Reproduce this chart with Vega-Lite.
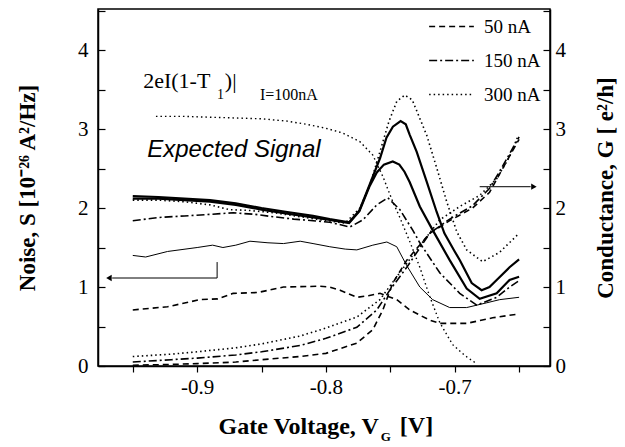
{
  "$schema": "https://vega.github.io/schema/vega-lite/v6.json",
  "width": 452,
  "height": 357,
  "autosize": {"type": "none"},
  "padding": {"left": 98, "top": 9, "right": 75, "bottom": 81},
  "background": "white",
  "data": {"values": [{}]},
  "config": {
    "view": {"stroke": "black", "strokeWidth": 1.5},
    "axis": {"grid": false, "domainColor": "black", "domainWidth": 1.5, "tickColor": "black", "tickWidth": 1.2, "labelColor": "black", "titleColor": "black", "labelFont": "Liberation Serif", "titleFont": "Liberation Serif", "labelFontSize": 21, "titleFontSize": 23, "titleFontWeight": "bold"}
  },
  "datasets": {
    "solid": [
      {"s":"A","v":-0.95,"y":2.15},{"s":"A","v":-0.93,"y":2.14},{"s":"A","v":-0.91,"y":2.12},{"s":"A","v":-0.89,"y":2.1},{"s":"A","v":-0.87,"y":2.06},{"s":"A","v":-0.85,"y":2.0},{"s":"A","v":-0.83,"y":1.95},{"s":"A","v":-0.81,"y":1.9},{"s":"A","v":-0.797,"y":1.86},{"s":"A","v":-0.782,"y":1.82},{"s":"A","v":-0.774,"y":1.97},{"s":"A","v":-0.766,"y":2.3},{"s":"A","v":-0.758,"y":2.63},{"s":"A","v":-0.753,"y":2.89},{"s":"A","v":-0.748,"y":3.03},{"s":"A","v":-0.742,"y":3.1},{"s":"A","v":-0.738,"y":3.06},{"s":"A","v":-0.735,"y":2.93},{"s":"A","v":-0.7295,"y":2.71},{"s":"A","v":-0.7217,"y":2.33},{"s":"A","v":-0.714,"y":1.95},{"s":"A","v":-0.708,"y":1.68},{"s":"A","v":-0.7,"y":1.45},{"s":"A","v":-0.696,"y":1.34},{"s":"A","v":-0.6868,"y":1.05},{"s":"A","v":-0.6791,"y":0.96},{"s":"A","v":-0.673,"y":1.0},{"s":"A","v":-0.6674,"y":1.09},{"s":"A","v":-0.6574,"y":1.25},{"s":"A","v":-0.65,"y":1.35},
      {"s":"B","v":-0.95,"y":2.12},{"s":"B","v":-0.93,"y":2.12},{"s":"B","v":-0.91,"y":2.1},{"s":"B","v":-0.89,"y":2.08},{"s":"B","v":-0.87,"y":2.04},{"s":"B","v":-0.85,"y":1.98},{"s":"B","v":-0.83,"y":1.93},{"s":"B","v":-0.81,"y":1.88},{"s":"B","v":-0.797,"y":1.85},{"s":"B","v":-0.782,"y":1.81},{"s":"B","v":-0.774,"y":1.96},{"s":"B","v":-0.766,"y":2.28},{"s":"B","v":-0.7605,"y":2.45},{"s":"B","v":-0.755,"y":2.55},{"s":"B","v":-0.7481,"y":2.59},{"s":"B","v":-0.743,"y":2.55},{"s":"B","v":-0.739,"y":2.46},{"s":"B","v":-0.735,"y":2.33},{"s":"B","v":-0.7271,"y":2.02},{"s":"B","v":-0.7171,"y":1.72},{"s":"B","v":-0.7039,"y":1.34},{"s":"B","v":-0.6907,"y":0.98},{"s":"B","v":-0.6806,"y":0.85},{"s":"B","v":-0.6674,"y":0.92},{"s":"B","v":-0.6574,"y":1.09},{"s":"B","v":-0.65,"y":1.13}
    ],
    "thin": [
      {"v":-0.95,"y":1.4},{"v":-0.94,"y":1.38},{"v":-0.923,"y":1.45},{"v":-0.9,"y":1.5},{"v":-0.888,"y":1.53},{"v":-0.88,"y":1.5},{"v":-0.87,"y":1.53},{"v":-0.859,"y":1.58},{"v":-0.845,"y":1.56},{"v":-0.833,"y":1.55},{"v":-0.82,"y":1.58},{"v":-0.81,"y":1.55},{"v":-0.797,"y":1.51},{"v":-0.785,"y":1.48},{"v":-0.776,"y":1.47},{"v":-0.7636,"y":1.53},{"v":-0.7527,"y":1.57},{"v":-0.745,"y":1.51},{"v":-0.7372,"y":1.27},{"v":-0.7271,"y":1.0},{"v":-0.7171,"y":0.84},{"v":-0.7039,"y":0.74},{"v":-0.6907,"y":0.74},{"v":-0.6752,"y":0.8},{"v":-0.6651,"y":0.84},{"v":-0.65,"y":0.87}
    ],
    "expected": [
      {"v":-0.932,"y":3.16},{"v":-0.91,"y":3.16},{"v":-0.89,"y":3.15},{"v":-0.87,"y":3.14},{"v":-0.85,"y":3.13},{"v":-0.83,"y":3.1},{"v":-0.815,"y":3.06},{"v":-0.8,"y":3.01},{"v":-0.787,"y":2.95},{"v":-0.7736,"y":2.84},{"v":-0.7636,"y":2.67},{"v":-0.7558,"y":2.4},{"v":-0.7481,"y":2.08},{"v":-0.7426,"y":1.88},{"v":-0.735,"y":1.58},{"v":-0.7271,"y":1.25},{"v":-0.7194,"y":0.88},{"v":-0.7116,"y":0.55},{"v":-0.7016,"y":0.27},{"v":-0.692,"y":0.13},{"v":-0.683,"y":0.03}
    ],
    "current": [
      {"s":"N300","c":"300 nA","v":-0.95,"y":2.1},{"s":"N300","c":"300 nA","v":-0.93,"y":2.1},{"s":"N300","c":"300 nA","v":-0.91,"y":2.08},{"s":"N300","c":"300 nA","v":-0.89,"y":2.04},{"s":"N300","c":"300 nA","v":-0.875,"y":1.98},{"s":"N300","c":"300 nA","v":-0.86,"y":1.97},{"s":"N300","c":"300 nA","v":-0.84,"y":1.94},{"s":"N300","c":"300 nA","v":-0.82,"y":1.89},{"s":"N300","c":"300 nA","v":-0.8,"y":1.84},{"s":"N300","c":"300 nA","v":-0.785,"y":1.81},{"s":"N300","c":"300 nA","v":-0.7736,"y":2.0},{"s":"N300","c":"300 nA","v":-0.7659,"y":2.29},{"s":"N300","c":"300 nA","v":-0.7581,"y":2.71},{"s":"N300","c":"300 nA","v":-0.751,"y":3.1},{"s":"N300","c":"300 nA","v":-0.745,"y":3.35},{"s":"N300","c":"300 nA","v":-0.7388,"y":3.43},{"s":"N300","c":"300 nA","v":-0.733,"y":3.37},{"s":"N300","c":"300 nA","v":-0.7217,"y":2.92},{"s":"N300","c":"300 nA","v":-0.714,"y":2.51},{"s":"N300","c":"300 nA","v":-0.7062,"y":2.08},{"s":"N300","c":"300 nA","v":-0.6984,"y":1.7},{"s":"N300","c":"300 nA","v":-0.6907,"y":1.47},{"s":"N300","c":"300 nA","v":-0.6783,"y":1.32},{"s":"N300","c":"300 nA","v":-0.6651,"y":1.44},{"s":"N300","c":"300 nA","v":-0.65,"y":1.68},
      {"s":"N150","c":"150 nA","v":-0.95,"y":1.84},{"s":"N150","c":"150 nA","v":-0.93,"y":1.88},{"s":"N150","c":"150 nA","v":-0.91,"y":1.9},{"s":"N150","c":"150 nA","v":-0.89,"y":1.92},{"s":"N150","c":"150 nA","v":-0.872,"y":1.94},{"s":"N150","c":"150 nA","v":-0.855,"y":1.92},{"s":"N150","c":"150 nA","v":-0.841,"y":1.89},{"s":"N150","c":"150 nA","v":-0.825,"y":1.86},{"s":"N150","c":"150 nA","v":-0.81,"y":1.84},{"s":"N150","c":"150 nA","v":-0.797,"y":1.82},{"s":"N150","c":"150 nA","v":-0.7814,"y":1.76},{"s":"N150","c":"150 nA","v":-0.7713,"y":1.85},{"s":"N150","c":"150 nA","v":-0.7605,"y":2.04},{"s":"N150","c":"150 nA","v":-0.7519,"y":2.13},{"s":"N150","c":"150 nA","v":-0.7426,"y":1.98},{"s":"N150","c":"150 nA","v":-0.7326,"y":1.72},{"s":"N150","c":"150 nA","v":-0.7271,"y":1.56},{"s":"N150","c":"150 nA","v":-0.7116,"y":1.18},{"s":"N150","c":"150 nA","v":-0.6961,"y":0.92},{"s":"N150","c":"150 nA","v":-0.6829,"y":0.77},{"s":"N150","c":"150 nA","v":-0.6674,"y":0.87},{"s":"N150","c":"150 nA","v":-0.6574,"y":1.0},{"s":"N150","c":"150 nA","v":-0.65,"y":1.08},
      {"s":"N50","c":"50 nA","v":-0.95,"y":0.71},{"s":"N50","c":"50 nA","v":-0.923,"y":0.75},{"s":"N50","c":"50 nA","v":-0.898,"y":0.84},{"s":"N50","c":"50 nA","v":-0.884,"y":0.85},{"s":"N50","c":"50 nA","v":-0.872,"y":0.92},{"s":"N50","c":"50 nA","v":-0.853,"y":0.93},{"s":"N50","c":"50 nA","v":-0.833,"y":1.0},{"s":"N50","c":"50 nA","v":-0.805,"y":1.01},{"s":"N50","c":"50 nA","v":-0.797,"y":1.0},{"s":"N50","c":"50 nA","v":-0.789,"y":0.96},{"s":"N50","c":"50 nA","v":-0.776,"y":0.87},{"s":"N50","c":"50 nA","v":-0.767,"y":0.89},{"s":"N50","c":"50 nA","v":-0.758,"y":0.92},{"s":"N50","c":"50 nA","v":-0.745,"y":0.84},{"s":"N50","c":"50 nA","v":-0.735,"y":0.71},{"s":"N50","c":"50 nA","v":-0.7194,"y":0.58},{"s":"N50","c":"50 nA","v":-0.7116,"y":0.54},{"s":"N50","c":"50 nA","v":-0.6907,"y":0.54},{"s":"N50","c":"50 nA","v":-0.6705,"y":0.61},{"s":"N50","c":"50 nA","v":-0.65,"y":0.66},
      {"s":"G300","c":"300 nA","v":-0.95,"y":0.12},{"s":"G300","c":"300 nA","v":-0.92,"y":0.15},{"s":"G300","c":"300 nA","v":-0.9,"y":0.18},{"s":"G300","c":"300 nA","v":-0.87,"y":0.23},{"s":"G300","c":"300 nA","v":-0.85,"y":0.28},{"s":"G300","c":"300 nA","v":-0.82,"y":0.38},{"s":"G300","c":"300 nA","v":-0.8,"y":0.48},{"s":"G300","c":"300 nA","v":-0.776,"y":0.62},{"s":"G300","c":"300 nA","v":-0.7581,"y":0.84},{"s":"G300","c":"300 nA","v":-0.745,"y":1.13},{"s":"G300","c":"300 nA","v":-0.7295,"y":1.47},{"s":"G300","c":"300 nA","v":-0.7116,"y":1.85},{"s":"G300","c":"300 nA","v":-0.6961,"y":2.02},{"s":"G300","c":"300 nA","v":-0.6806,"y":2.16},{"s":"G300","c":"300 nA","v":-0.6674,"y":2.37},{"s":"G300","c":"300 nA","v":-0.6574,"y":2.65},{"s":"G300","c":"300 nA","v":-0.6511,"y":2.9},
      {"s":"G150","c":"150 nA","v":-0.95,"y":0.05},{"s":"G150","c":"150 nA","v":-0.92,"y":0.08},{"s":"G150","c":"150 nA","v":-0.9,"y":0.1},{"s":"G150","c":"150 nA","v":-0.87,"y":0.14},{"s":"G150","c":"150 nA","v":-0.85,"y":0.18},{"s":"G150","c":"150 nA","v":-0.82,"y":0.26},{"s":"G150","c":"150 nA","v":-0.8,"y":0.35},{"s":"G150","c":"150 nA","v":-0.776,"y":0.49},{"s":"G150","c":"150 nA","v":-0.7605,"y":0.71},{"s":"G150","c":"150 nA","v":-0.7504,"y":0.96},{"s":"G150","c":"150 nA","v":-0.7372,"y":1.25},{"s":"G150","c":"150 nA","v":-0.7194,"y":1.68},{"s":"G150","c":"150 nA","v":-0.7039,"y":1.86},{"s":"G150","c":"150 nA","v":-0.6861,"y":2.03},{"s":"G150","c":"150 nA","v":-0.6729,"y":2.25},{"s":"G150","c":"150 nA","v":-0.6628,"y":2.53},{"s":"G150","c":"150 nA","v":-0.65,"y":2.9},
      {"s":"G50","c":"50 nA","v":-0.95,"y":0.01},{"s":"G50","c":"50 nA","v":-0.92,"y":0.02},{"s":"G50","c":"50 nA","v":-0.9,"y":0.03},{"s":"G50","c":"50 nA","v":-0.87,"y":0.05},{"s":"G50","c":"50 nA","v":-0.85,"y":0.08},{"s":"G50","c":"50 nA","v":-0.82,"y":0.12},{"s":"G50","c":"50 nA","v":-0.8,"y":0.16},{"s":"G50","c":"50 nA","v":-0.776,"y":0.29},{"s":"G50","c":"50 nA","v":-0.7636,"y":0.46},{"s":"G50","c":"50 nA","v":-0.7558,"y":0.71},{"s":"G50","c":"50 nA","v":-0.7481,"y":1.05},{"s":"G50","c":"50 nA","v":-0.7372,"y":1.34},{"s":"G50","c":"50 nA","v":-0.7194,"y":1.68},{"s":"G50","c":"50 nA","v":-0.7039,"y":1.84},{"s":"G50","c":"50 nA","v":-0.6861,"y":2.0},{"s":"G50","c":"50 nA","v":-0.6729,"y":2.2},{"s":"G50","c":"50 nA","v":-0.6628,"y":2.5},{"s":"G50","c":"50 nA","v":-0.65,"y":2.87}
    ]
  },
  "layer": [
    {
      "data": {"name": "solid"},
      "mark": {"type": "line", "color": "black", "strokeWidth": 2.2},
      "encoding": {
        "x": {"field": "v", "type": "quantitative", "scale": {"domain": [-0.977, -0.626], "nice": false, "zero": false},
          "axis": {"values": [-0.95, -0.9, -0.85, -0.8, -0.75, -0.7, -0.65], "labelExpr": "abs(datum.value*10 - round(datum.value*10)) < 0.001 ? replace(format(datum.value, '.1f'), '\u2212', '-') : ''", "tickSize": 6, "labelPadding": 4, "title": "Gate Voltage, V", "titleFontSize": 24, "titleAlign": "left", "titleAnchor": "start", "titleBaseline": "alphabetic", "titleX": 120, "titleY": 67}},
        "y": {"field": "y", "type": "quantitative", "scale": {"domain": [0, 4.52], "nice": false, "zero": false},
          "axis": {"orient": "left", "values": [0, 0.5, 1, 1.5, 2, 2.5, 3, 3.5, 4, 4.5], "labelExpr": "datum.value % 1 == 0 ? format(datum.value, 'd') : ''", "tickSize": -7, "labelPadding": 17, "title": "Noise, S  [10\u207b\u00b2\u2076 A\u00b2/Hz]", "titlePadding": 38}},
        "detail": {"field": "s"}
      }
    },
    {
      "data": {"name": "thin"},
      "mark": {"type": "line", "color": "black", "strokeWidth": 1},
      "encoding": {
        "x": {"field": "v", "type": "quantitative", "scale": {"domain": [-0.977, -0.626], "nice": false, "zero": false}},
        "y": {"field": "y", "type": "quantitative", "scale": {"domain": [0, 4.52], "nice": false, "zero": false}, "axis": null}
      }
    },
    {
      "data": {"name": "expected"},
      "mark": {"type": "line", "color": "black", "strokeWidth": 1.4, "strokeDash": [1.5, 3]},
      "encoding": {
        "x": {"field": "v", "type": "quantitative", "scale": {"domain": [-0.977, -0.626], "nice": false, "zero": false}},
        "y": {"field": "y", "type": "quantitative", "scale": {"domain": [0, 4.52], "nice": false, "zero": false}, "axis": null}
      }
    },
    {
      "data": {"name": "current"},
      "mark": {"type": "line", "color": "black", "strokeWidth": 1.6},
      "encoding": {
        "x": {"field": "v", "type": "quantitative", "scale": {"domain": [-0.977, -0.626], "nice": false, "zero": false}},
        "y": {"field": "y", "type": "quantitative", "scale": {"domain": [0, 4.52], "nice": false, "zero": false},
          "axis": {"orient": "right", "values": [0, 0.5, 1, 1.5, 2, 2.5, 3, 3.5, 4, 4.5], "labelExpr": "datum.value % 1 == 0 ? format(datum.value, 'd') : ''", "tickSize": -7, "labelPadding": 12, "title": "Conductance, G [ e\u00b2/h]", "titleAngle": -90, "titlePadding": 52}},
        "strokeDash": {"field": "c", "type": "nominal", "scale": {"domain": ["50 nA", "150 nA", "300 nA"], "range": [[6, 4], [8, 3, 2, 3], [1.5, 3]]},
          "legend": {"orient": "none", "legendX": 330, "legendY": -6, "title": null, "symbolType": "stroke", "symbolSize": 2000, "symbolStrokeWidth": 1.6, "symbolStrokeColor": "black", "labelFont": "Liberation Serif", "labelFontSize": 19, "labelColor": "black", "labelOffset": 9, "rowPadding": -16}},
        "detail": {"field": "s"}
      }
    },
    {
      "mark": {"type": "rule", "color": "black", "strokeWidth": 1},
      "encoding": {
        "x": {"datum": -0.6806, "type": "quantitative", "scale": {"domain": [-0.977, -0.626], "nice": false, "zero": false}},
        "x2": {"datum": -0.641},
        "y": {"datum": 2.27, "type": "quantitative", "scale": {"domain": [0, 4.52], "nice": false, "zero": false}, "axis": null}
      }
    },
    {
      "mark": {"type": "point", "shape": "triangle-right", "filled": true, "color": "black", "size": 40, "opacity": 1},
      "encoding": {
        "x": {"datum": -0.6385, "type": "quantitative", "scale": {"domain": [-0.977, -0.626], "nice": false, "zero": false}},
        "y": {"datum": 2.27, "type": "quantitative", "scale": {"domain": [0, 4.52], "nice": false, "zero": false}, "axis": null}
      }
    },
    {
      "mark": {"type": "rule", "color": "black", "strokeWidth": 1},
      "encoding": {
        "x": {"datum": -0.966, "type": "quantitative", "scale": {"domain": [-0.977, -0.626], "nice": false, "zero": false}},
        "x2": {"datum": -0.8845},
        "y": {"datum": 1.114, "type": "quantitative", "scale": {"domain": [0, 4.52], "nice": false, "zero": false}, "axis": null}
      }
    },
    {
      "mark": {"type": "rule", "color": "black", "strokeWidth": 1},
      "encoding": {
        "x": {"datum": -0.8845, "type": "quantitative", "scale": {"domain": [-0.977, -0.626], "nice": false, "zero": false}},
        "y": {"datum": 1.114, "type": "quantitative", "scale": {"domain": [0, 4.52], "nice": false, "zero": false}, "axis": null},
        "y2": {"datum": 1.316}
      }
    },
    {
      "mark": {"type": "point", "shape": "triangle-left", "filled": true, "color": "black", "size": 40, "opacity": 1},
      "encoding": {
        "x": {"datum": -0.9685, "type": "quantitative", "scale": {"domain": [-0.977, -0.626], "nice": false, "zero": false}},
        "y": {"datum": 1.114, "type": "quantitative", "scale": {"domain": [0, 4.52], "nice": false, "zero": false}, "axis": null}
      }
    },
    {
      "mark": {"type": "text", "align": "left", "baseline": "alphabetic", "font": "Liberation Serif", "fontSize": 22, "color": "black"},
      "encoding": {
        "x": {"datum": -0.9419, "type": "quantitative", "scale": {"domain": [-0.977, -0.626], "nice": false, "zero": false}},
        "y": {"datum": 3.52, "type": "quantitative", "scale": {"domain": [0, 4.52], "nice": false, "zero": false}, "axis": null},
        "text": {"value": "2eI(1-T"}
      }
    },
    {
      "mark": {"type": "text", "align": "left", "baseline": "alphabetic", "font": "Liberation Serif", "fontSize": 14, "color": "black"},
      "encoding": {
        "x": {"datum": -0.8845, "type": "quantitative", "scale": {"domain": [-0.977, -0.626], "nice": false, "zero": false}},
        "y": {"datum": 3.38, "type": "quantitative", "scale": {"domain": [0, 4.52], "nice": false, "zero": false}, "axis": null},
        "text": {"value": "1"}
      }
    },
    {
      "mark": {"type": "text", "align": "left", "baseline": "alphabetic", "font": "Liberation Serif", "fontSize": 22, "color": "black"},
      "encoding": {
        "x": {"datum": -0.8785, "type": "quantitative", "scale": {"domain": [-0.977, -0.626], "nice": false, "zero": false}},
        "y": {"datum": 3.52, "type": "quantitative", "scale": {"domain": [0, 4.52], "nice": false, "zero": false}, "axis": null},
        "text": {"value": ")|"}
      }
    },
    {
      "mark": {"type": "text", "align": "left", "baseline": "alphabetic", "font": "Liberation Serif", "fontSize": 16, "color": "black"},
      "encoding": {
        "x": {"datum": -0.8512, "type": "quantitative", "scale": {"domain": [-0.977, -0.626], "nice": false, "zero": false}},
        "y": {"datum": 3.37, "type": "quantitative", "scale": {"domain": [0, 4.52], "nice": false, "zero": false}, "axis": null},
        "text": {"value": "I=100nA"}
      }
    },
    {
      "mark": {"type": "text", "align": "left", "baseline": "alphabetic", "font": "Liberation Sans", "fontStyle": "italic", "fontSize": 24, "color": "black"},
      "encoding": {
        "x": {"datum": -0.9388, "type": "quantitative", "scale": {"domain": [-0.977, -0.626], "nice": false, "zero": false}},
        "y": {"datum": 2.65, "type": "quantitative", "scale": {"domain": [0, 4.52], "nice": false, "zero": false}, "axis": null},
        "text": {"value": "Expected Signal"}
      }
    },
    {
      "mark": {"type": "text", "align": "left", "baseline": "alphabetic", "font": "Liberation Serif", "fontWeight": "bold", "fontSize": 13, "color": "black", "clip": false},
      "encoding": {
        "x": {"datum": -0.7574, "type": "quantitative", "scale": {"domain": [-0.977, -0.626], "nice": false, "zero": false}},
        "y": {"datum": -0.95, "type": "quantitative", "scale": {"domain": [0, 4.52], "nice": false, "zero": false}, "axis": null},
        "text": {"value": "G"}
      }
    },
    {
      "mark": {"type": "text", "align": "left", "baseline": "alphabetic", "font": "Liberation Serif", "fontWeight": "bold", "fontSize": 24, "color": "black", "clip": false},
      "encoding": {
        "x": {"datum": -0.7426, "type": "quantitative", "scale": {"domain": [-0.977, -0.626], "nice": false, "zero": false}},
        "y": {"datum": -0.848, "type": "quantitative", "scale": {"domain": [0, 4.52], "nice": false, "zero": false}, "axis": null},
        "text": {"value": "[V]"}
      }
    }
  ],
  "resolve": {"scale": {"y": "independent"}}
}
